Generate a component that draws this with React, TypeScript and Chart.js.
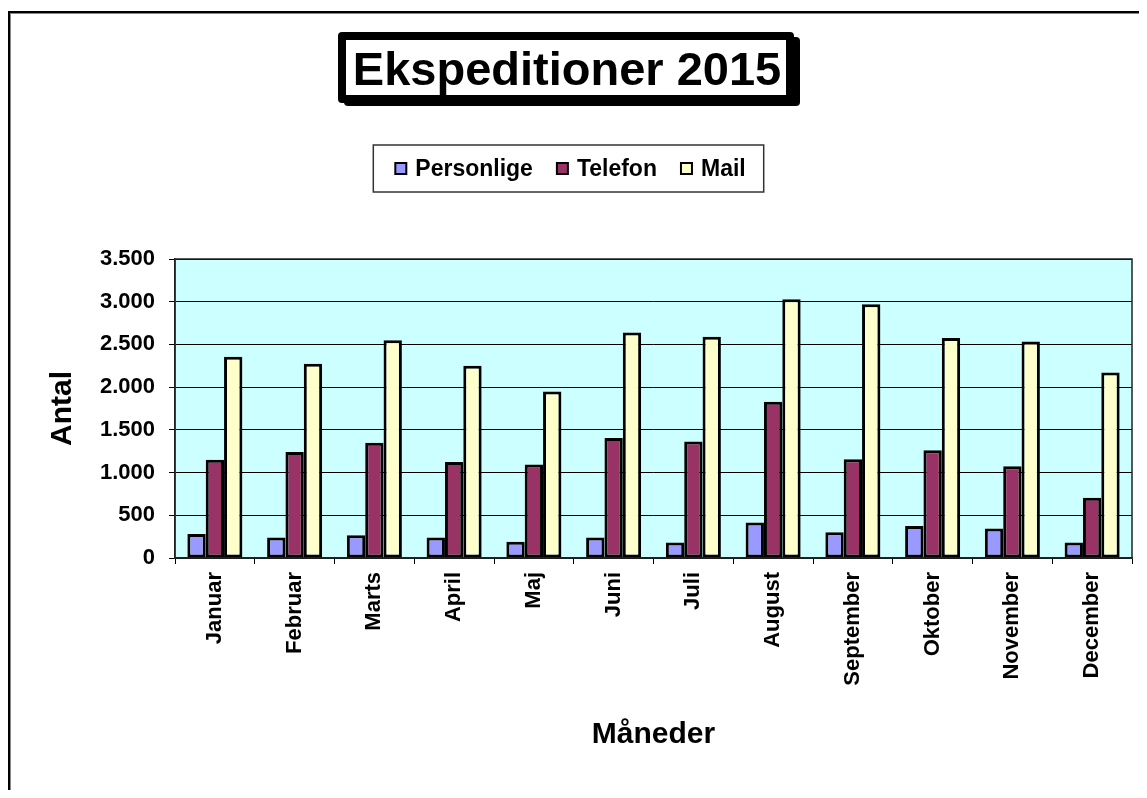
import React, { useEffect, useRef } from "react";
import { Chart, registerables } from "chart.js";

Chart.register(...registerables);

const TITLE = "Ekspeditioner 2015";
const months = ["Januar", "Februar", "Marts", "April", "Maj", "Juni", "Juli", "August", "September", "Oktober", "November", "December"];
const seriesNames = ["Personlige", "Telefon", "Mail"];
const seriesColors = ["#9999FF", "#993366", "#FFFFCC"];
const personlige = [280, 240, 265, 240, 190, 240, 180, 415, 300, 375, 345, 180];
const telefon = [1150, 1240, 1350, 1125, 1095, 1405, 1365, 1830, 1155, 1260, 1075, 705];
const mail = [2355, 2275, 2550, 2250, 1950, 2640, 2590, 3030, 2970, 2575, 2535, 2170];
const yMin = 0;
const yMax = 3500;
const yStep = 500;
const xTitle = "Måneder";
const yTitle = "Antal";

const FONT = "'Liberation Sans', Arial, Helvetica, sans-serif";

const formatDa = (v: number) => String(v).replace(/\B(?=(\d{3})+(?!\d))/g, ".");

const W = 1131;
const H = 782;

const decorPlugin = {
  id: "decor",
  beforeDraw(chart: any) {
    const { ctx, chartArea } = chart;
    ctx.save();
    ctx.fillStyle = "#FFFFFF";
    ctx.fillRect(0, 0, chart.width, chart.height);
    ctx.fillStyle = "#CCFFFF";
    ctx.fillRect(chartArea.left, chartArea.top, chartArea.right - chartArea.left, chartArea.bottom - chartArea.top);
    ctx.restore();
  },
  afterDraw(chart: any) {
    const { ctx, chartArea } = chart;
    ctx.save();
    // outer frame (extends beyond the visible page)
    ctx.strokeStyle = "#888";
    ctx.lineWidth = 1;
    ctx.strokeRect(2.5, 5.5, chart.width + 20, chart.height + 20);
    ctx.strokeStyle = "#000";
    ctx.lineWidth = 2;
    ctx.strokeRect(1, 4, chart.width + 20, chart.height + 20);

    // plot area border
    ctx.strokeStyle = "#222";
    ctx.lineWidth = 1.5;
    ctx.strokeRect(chartArea.left, chartArea.top, chartArea.right - chartArea.left, chartArea.bottom - chartArea.top);

    // title box with shadow
    ctx.fillStyle = "#000";
    ctx.beginPath();
    (ctx as any).roundRect ? (ctx as any).roundRect(336, 29, 456, 69, 4) : ctx.rect(336, 29, 456, 69);
    ctx.fill();
    ctx.beginPath();
    (ctx as any).roundRect ? (ctx as any).roundRect(330, 24, 456, 71, 4) : ctx.rect(330, 24, 456, 71);
    ctx.fill();
    ctx.fillStyle = "#FFF";
    ctx.fillRect(338, 32, 440, 55);
    ctx.fillStyle = "#000";
    ctx.font = `bold 47px ${FONT}`;
    ctx.textAlign = "center";
    ctx.textBaseline = "alphabetic";
    ctx.fillText(TITLE, 559, 77);

    // legend
    const ds = chart.data.datasets;
    ctx.font = `bold 23px ${FONT}`;
    const box = 11;
    const gap = 9;
    const spacing = 24;
    const widths = ds.map((d: any) => ctx.measureText(d.label).width);
    let total = 0;
    widths.forEach((w: number, i: number) => {
      total += box + gap + w + (i < widths.length - 1 ? spacing : 0);
    });
    const padL = 22;
    const padR = 18;
    const boxW = total + padL + padR;
    const cx = 560.5;
    const bx = cx - boxW / 2;
    const by = 137;
    const bh = 47;
    ctx.fillStyle = "#FFF";
    ctx.fillRect(bx, by, boxW, bh);
    ctx.strokeStyle = "#333";
    ctx.lineWidth = 1.5;
    ctx.strokeRect(bx, by, boxW, bh);
    let x = bx + padL;
    const cy = by + bh / 2;
    ds.forEach((d: any, i: number) => {
      ctx.fillStyle = d.backgroundColor;
      ctx.fillRect(x, cy - box / 2, box, box);
      ctx.strokeStyle = "#000";
      ctx.lineWidth = 2;
      ctx.strokeRect(x, cy - box / 2, box, box);
      ctx.fillStyle = "#000";
      ctx.textAlign = "left";
      ctx.textBaseline = "middle";
      ctx.fillText(d.label, x + box + gap, cy + 1);
      x += box + gap + widths[i] + spacing;
    });
    ctx.restore();
  },
};

export default function App() {
  const ref = useRef<HTMLCanvasElement | null>(null);
  useEffect(() => {
    if (!ref.current) return;
    const values = [personlige, telefon, mail];
    const chart = new Chart(ref.current, {
      type: "bar",
      data: {
        labels: months,
        datasets: seriesNames.map((name, i) => ({
          label: name,
          data: values[i],
          backgroundColor: seriesColors[i],
          borderColor: "#000",
          borderWidth: 3,
          borderSkipped: false,
          categoryPercentage: 0.69,
          barPercentage: 1,
        })),
      },
      options: {
        responsive: false,
        animation: false,
        layout: { padding: { top: 251, left: 0, right: 7, bottom: 0 } },
        plugins: {
          legend: { display: false },
          title: { display: false },
          tooltip: { enabled: false },
        },
        scales: {
          x: {
            afterFit: (s: any) => {
              s.height = 232;
            },
            grid: {
              display: true,
              offset: true,
              drawOnChartArea: false,
              drawTicks: true,
              tickLength: 6,
              color: "#000",
              lineWidth: 1,
            },
            border: { display: true, color: "#222", width: 1.5 },
            ticks: {
              autoSkip: false,
              minRotation: 90,
              maxRotation: 90,
              padding: 8,
              color: "#000",
              font: { family: FONT, size: 22, weight: "bold" },
            },
            title: {
              display: true,
              text: xTitle,
              color: "#000",
              font: { family: FONT, size: 30, weight: "bold" },
              padding: { top: 0, bottom: 37 },
            },
          },
          y: {
            min: yMin,
            max: yMax,
            afterFit: (s: any) => {
              s.width = 167;
            },
            grid: {
              color: "#000",
              lineWidth: 1,
              drawTicks: true,
              tickLength: 6,
            },
            border: { display: true, color: "#222", width: 1.5 },
            ticks: {
              stepSize: yStep,
              padding: 14,
              color: "#000",
              font: { family: FONT, size: 22, weight: "bold" },
              callback: (v: any) => formatDa(Number(v)),
            },
            title: {
              display: true,
              text: yTitle,
              color: "#000",
              font: { family: FONT, size: 30, weight: "bold" },
              padding: { top: 37, bottom: 0 },
            },
          },
        },
      },
      plugins: [decorPlugin],
    } as any);
    return () => chart.destroy();
  }, []);
  return (
    <div style={{ width: W, height: H, position: "relative" }}>
      <canvas ref={ref} width={W} height={H} style={{ display: "block" }} />
    </div>
  );
}
